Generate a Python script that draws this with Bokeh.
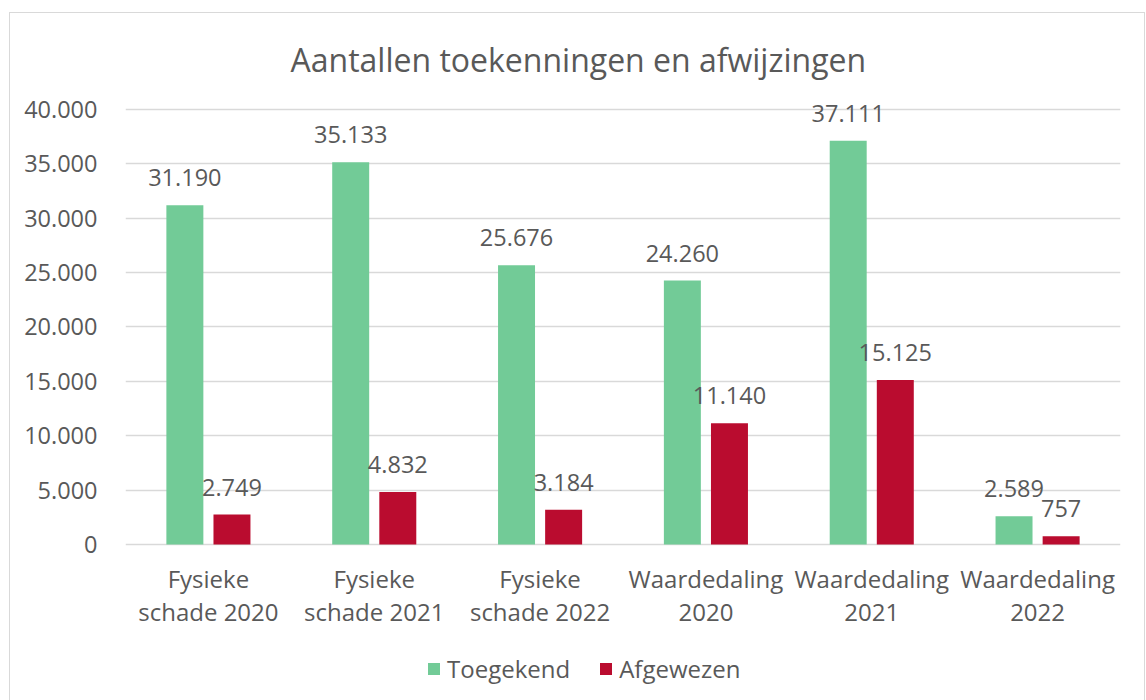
from bokeh.plotting import figure
from bokeh.models import (ColumnDataSource, FactorRange, Range1d, FixedTicker, LabelSet,
                          Legend, LegendItem)
from bokeh.core.properties import value
from bokeh.transform import dodge
from bokeh.embed import file_html
from bokeh.resources import INLINE

categories = ["Fysieke\nschade 2020", "Fysieke\nschade 2021", "Fysieke\nschade 2022",
              "Waardedaling\n2020", "Waardedaling\n2021", "Waardedaling\n2022"]
toegekend = [31190, 35133, 25676, 24260, 37111, 2589]
afgewezen = [2749, 4832, 3184, 11140, 15125, 757]
y_ticks = [0, 5000, 10000, 15000, 20000, 25000, 30000, 35000, 40000]
series_names = ["Toegekend", "Afgewezen"]
chart_title = "Aantallen toekenningen en afwijzingen"

GREEN = "#72CB97"
RED = "#BA0C2F"
TXT = "#595959"
GRID = "#d9d9d9"
FONT = "Open Sans"

def fmt(v):
    return f"{v:,}".replace(",", ".")

# layout (pixels)
FRAME_W = 995
FRAME_H = 603
ZERO_FROM_BOTTOM = 157     # pixel distance from frame bottom to the 0 line
Y_TOP = 41000
px_per_unit = (FRAME_H - ZERO_FROM_BOTTOM) / Y_TOP
Y_BOTTOM = -ZERO_FROM_BOTTOM / px_per_unit

src = ColumnDataSource(dict(
    cat=categories,
    line1=[c.split("\n")[0] for c in categories],
    line2=[c.split("\n")[1] for c in categories],
    zero=[0] * len(categories),
    t=toegekend, a=afgewezen,
    tl=[fmt(v) for v in toegekend],
    al=[fmt(v) for v in afgewezen],
))

p = figure(x_range=FactorRange(factors=categories, range_padding=0),
           y_range=Range1d(Y_BOTTOM, Y_TOP),
           frame_width=FRAME_W, frame_height=FRAME_H,
           x_axis_location=None,
           output_backend="svg", toolbar_location=None,
           min_border_left=115, min_border_right=24, min_border_top=85, min_border_bottom=0)

p.outline_line_color = None
p.background_fill_color = "white"
p.border_fill_color = "white"
p.styles = {"border": "1px solid #d9d9d9", "margin-left": "9px", "margin-top": "12px"}

off = 0.142
bw = 0.223
r1 = p.vbar(x=dodge("cat", -off, range=p.x_range), top="t", width=bw, source=src,
            fill_color=GREEN, line_color=None)
r2 = p.vbar(x=dodge("cat", off, range=p.x_range), top="a", width=bw, source=src,
            fill_color=RED, line_color=None)

for col, lab, o in (("t", "tl", -off), ("a", "al", off)):
    p.add_layout(LabelSet(x=dodge("cat", o, range=p.x_range), y=col, text=lab, source=src,
                          text_align="center", text_baseline="alphabetic", y_offset=19,
                          text_font=value(FONT), text_font_size=value("23.5px"), text_color=TXT))

# category labels (two lines) below the 0 line
for lab, yo in (("line1", -43), ("line2", -76)):
    p.add_layout(LabelSet(x="cat", y="zero", text=lab, source=src,
                          text_align="center", text_baseline="alphabetic", y_offset=yo,
                          text_font=value(FONT), text_font_size=value("24px"), text_color=TXT))

# y axis
p.yaxis.ticker = FixedTicker(ticks=y_ticks)
p.yaxis.major_label_overrides = {t: fmt(t) for t in y_ticks}
p.yaxis.axis_line_color = None
p.yaxis.major_tick_line_color = None
p.yaxis.minor_tick_line_color = None
p.yaxis.major_label_standoff = 22
p.yaxis.major_label_text_font = FONT
p.yaxis.major_label_text_font_size = "23.5px"
p.yaxis.major_label_text_color = TXT

p.xgrid.grid_line_color = None
p.ygrid.ticker = FixedTicker(ticks=y_ticks)
p.ygrid.grid_line_color = GRID
p.ygrid.grid_line_width = 1.5

# title
p.title.text = chart_title
p.title.align = "left"
p.title.offset = 165
p.title.standoff = 35
p.title.text_font = FONT
p.title.text_font_size = "32px"
p.title.text_font_style = "normal"
p.title.text_color = TXT

# legend (inside the frame, below the category labels)
legend = Legend(items=[LegendItem(label=series_names[0], renderers=[r1]),
                       LegendItem(label=series_names[1], renderers=[r2])],
                orientation="horizontal", location=(301, 16),
                glyph_width=15, glyph_height=15, label_standoff=6, spacing=28,
                label_text_font=FONT, label_text_font_size="24px", label_text_color=TXT,
                border_line_color=None, background_fill_alpha=0, padding=0, margin=0)
p.add_layout(legend)

open("out.html", "w").write(file_html(p, INLINE))
